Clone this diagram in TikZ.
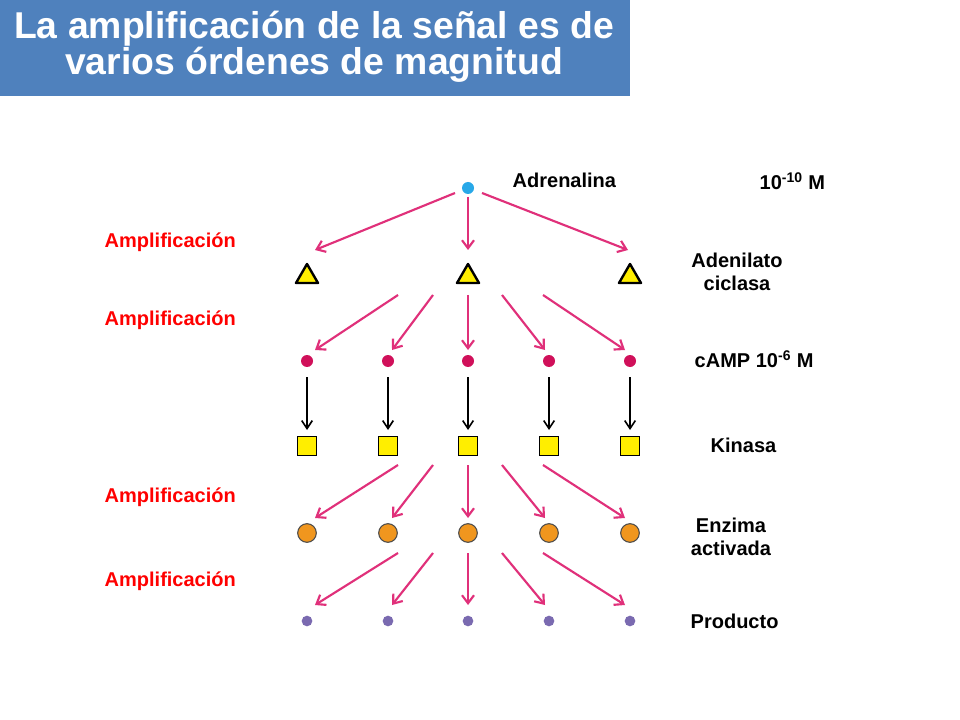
\documentclass[tikz,border=0pt]{standalone}
\usepackage{fontspec}
\setmainfont{Liberation Sans}
\usetikzlibrary{arrows.meta}
\definecolor{hdr}{HTML}{4F81BD}
\definecolor{pk}{HTML}{E0307A}
\definecolor{mg}{HTML}{D0105A}
\definecolor{yl}{HTML}{FFEE00}
\definecolor{og}{HTML}{F0961E}
\definecolor{pu}{HTML}{7A6AB0}
\definecolor{cy}{HTML}{28A8E8}
\begin{document}
\begin{tikzpicture}[x=0.75pt,y=-0.75pt,
  pa/.style={draw=pk,line width=1.6pt,-{Straight Barb[length=6pt,width=9pt]}},
  ba/.style={draw=black,line width=1.2pt,-{Straight Barb[length=6pt,width=8pt]}},
  lbl/.style={font=\fontsize{15}{17}\selectfont\bfseries},
  amp/.style={lbl,text=red,anchor=west},
  tri/.style={fill=yl,draw=black,line width=1.8pt,line join=round},
  sq/.style={fill=yl,draw=black,line width=1.2pt,minimum size=14pt,inner sep=0pt,rectangle},
  dot/.style={circle,inner sep=0pt}]
\useasboundingbox (0,0) rectangle (960,720);
\fill[white] (0,0) rectangle (960,720);
\fill[hdr] (0,0) rectangle (630,96);
\node[text=white,font=\fontsize{28}{26}\selectfont\bfseries,align=center] (title) at (314,47) {La amplificación de la señal es de\\varios órdenes de magnitud};
\node[dot,fill=cy,minimum size=9pt] (adr) at (468,188) {};
\foreach \x/\n in {307/1,468/2,630/3}{
  \filldraw[tri] (\x-11,283)--(\x+11,283)--(\x,264)--cycle;
  \coordinate (t\n) at (\x,274);
}
\foreach \x [count=\i] in {307,388,468,549,630}{
  \node[dot,fill=mg,minimum size=9pt] (m\i) at (\x,361) {};
  \node[sq] (s\i) at (\x,446) {};
  \node[dot,fill=og,draw=black!70,line width=0.8pt,minimum size=14pt] (o\i) at (\x,533) {};
  \node[dot,fill=pu,minimum size=8pt] (p\i) at (\x,621) {};
  \coordinate (ba\i) at (\x,377);
  \coordinate (bb\i) at (\x,430);
  \draw[ba] (ba\i)--(bb\i);
}
\coordinate (a1) at (455,193); \coordinate (a1e) at (315,250);
\coordinate (a2) at (468,197); \coordinate (a2e) at (468,250);
\coordinate (a3) at (482,193); \coordinate (a3e) at (628,250);
\draw[pa] (a1)--(a1e); \draw[pa] (a2)--(a2e); \draw[pa] (a3)--(a3e);
\foreach \ys/\ye/\r in {295/350/b,465/518/d,553/605/e}{
  \foreach \xs/\xe [count=\k] in {398/315,433/392,468/468,502/545,543/625}{
    \coordinate (\r s\k) at (\xs,\ys);
    \coordinate (\r e\k) at (\xe,\ye);
    \draw[pa] (\r s\k)--(\r e\k);
  }
}
\node[lbl,anchor=west] (ladr) at (508,180) {Adrenalina};
\node[lbl,anchor=west] (lconc) at (755,181) {10\textsuperscript{-10} M};
\node[lbl,align=center] (lac) at (737,272) {Adenilato\\ciclasa};
\node[lbl,anchor=west] (lcamp) at (690,359) {cAMP 10\textsuperscript{-6} M};
\node[lbl,anchor=west] (lkin) at (706,445) {Kinasa};
\node[lbl,align=center] (lenz) at (731,537) {Enzima\\activada};
\node[lbl,anchor=west] (lprod) at (686,621) {Producto};
\node[amp] (am1) at (100,242) {Amplificación};
\node[amp] (am2) at (100,320) {Amplificación};
\node[amp] (am3) at (100,497) {Amplificación};
\node[amp] (am4) at (100,581) {Amplificación};
\end{tikzpicture}
\end{document}
